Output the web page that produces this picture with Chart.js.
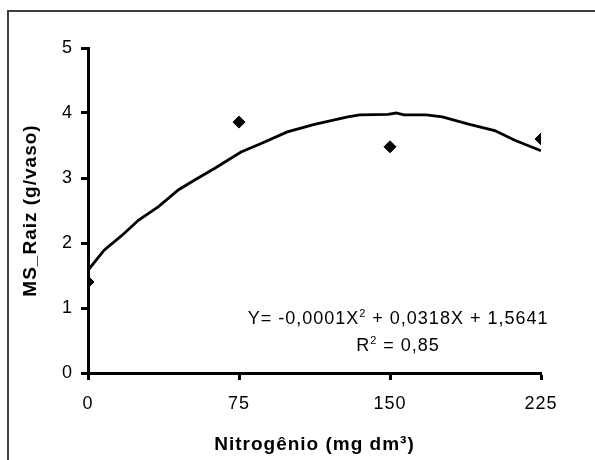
<!DOCTYPE html>
<html>
<head>
<meta charset="utf-8">
<script src="https://cdn.jsdelivr.net/npm/chart.js@4"></script>
<style>
  html, body { margin: 0; padding: 0; background: #fff; overflow: hidden; }
  #wrap { position: relative; width: 595px; height: 460px; }
  #frame { position: absolute; left: 7px; top: 10px; width: 700px; height: 600px; border: 2px solid #404040; box-sizing: border-box; pointer-events: none; }
  canvas { position: absolute; left: 0; top: 0; }
</style>
</head>
<body>
<div id="wrap">
  <canvas id="c" width="595" height="460"></canvas>
  <div id="frame"></div>
</div>
<script>
// ---- data ----
const obsX = [0, 75, 150, 225];
const obsY = [1.40, 3.86, 3.48, 3.60];

// fitted curve as drawn (jagged polyline in the original)
const curveX = [0, 8, 17, 25, 35, 45, 53, 63, 76, 86, 99, 112, 129, 135, 149, 153, 157, 168, 176, 189, 202, 212, 225];
const curveY = [1.58, 1.89, 2.12, 2.35, 2.56, 2.82, 2.97, 3.15, 3.40, 3.53, 3.71, 3.82, 3.94, 3.97, 3.98, 4.00, 3.97, 3.97, 3.94, 3.83, 3.73, 3.58, 3.42];

const xTicks = [0, 75, 150, 225];
const yTicks = [0, 1, 2, 3, 4, 5];

const xTitle = "Nitrogênio (mg dm³)";
const yTitle = "MS_Raiz (g/vaso)";
const eqLine1 = [["Y= -0,0001X", false], ["2", true], [" + 0,0318X + 1,5641", false]];
const eqLine2 = [["R", false], ["2", true], [" = 0,85", false]];

const FONT = "Arial, 'Liberation Sans', sans-serif";

// the original text is set a bit loose; widen all canvas text a little
const spacingPlugin = {
  id: "spacing",
  beforeDraw(chart) { chart.ctx.letterSpacing = "1px"; }
};

// equation label, anchored in data coords
const eqPlugin = {
  id: "eq",
  afterDraw(chart) {
    const { ctx, scales: { x, y } } = chart;
    const cx = x.getPixelForValue(154);
    const drawRuns = (runs, baseY) => {
      const big = "18px " + FONT, small = "11px " + FONT;
      ctx.save();
      ctx.letterSpacing = "1px";
      let w = 0;
      runs.forEach(([t, sup]) => { ctx.font = sup ? small : big; w += ctx.measureText(t).width; });
      let px = cx - w / 2;
      ctx.fillStyle = "#000";
      ctx.textBaseline = "alphabetic";
      ctx.textAlign = "left";
      runs.forEach(([t, sup]) => {
        ctx.font = sup ? small : big;
        ctx.fillText(t, px, sup ? baseY - 7 : baseY);
        px += ctx.measureText(t).width;
      });
      ctx.restore();
    };
    drawRuns(eqLine1, y.getPixelForValue(0.75));
    drawRuns(eqLine2, y.getPixelForValue(0.34));
  }
};

const axisCommon = {
  border: { display: true, color: "#000", width: 3 },
  grid: { drawOnChartArea: false, drawTicks: true, tickLength: 7, tickWidth: 3, tickColor: "#000" },
};

new Chart(document.getElementById("c"), {
  type: "scatter",
  data: {
    datasets: [
      {
        type: "line",
        label: "ajuste",
        data: curveX.map((v, i) => ({ x: v, y: curveY[i] })),
        borderColor: "#000",
        borderWidth: 2.8,
        pointRadius: 0,
        tension: 0,
        fill: false
      },
      {
        label: "observado",
        data: obsX.map((v, i) => ({ x: v, y: obsY[i] })),
        pointStyle: "rectRot",
        pointRadius: 6,
        backgroundColor: "#000",
        borderColor: "#000",
        borderWidth: 1
      }
    ]
  },
  options: {
    responsive: false,
    animation: false,
    layout: { padding: { left: 0, top: 48, right: 54, bottom: 0 } },
    plugins: { legend: { display: false }, tooltip: { enabled: false } },
    scales: {
      x: {
        ...axisCommon,
        type: "linear",
        min: 0, max: 225,
        afterBuildTicks: s => { s.ticks = xTicks.map(v => ({ value: v })); },
        afterFit: s => { s.height = 87; },
        ticks: { color: "#000", font: { family: FONT, size: 18 }, padding: 13, maxRotation: 0 },
        title: { display: true, text: xTitle, color: "#000", font: { family: FONT, size: 19, weight: "bold" }, padding: { top: 0, bottom: 4 } }
      },
      y: {
        ...axisCommon,
        min: 0, max: 5,
        afterBuildTicks: s => { s.ticks = yTicks.map(v => ({ value: v })); },
        afterFit: s => { s.width = 88; },
        ticks: { color: "#000", font: { family: FONT, size: 18 }, padding: 8 },
        title: { display: true, text: yTitle, color: "#000", font: { family: FONT, size: 19, weight: "bold" }, padding: { top: 19, bottom: 0 } }
      }
    }
  },
  plugins: [spacingPlugin, eqPlugin]
});
</script>
</body>
</html>
